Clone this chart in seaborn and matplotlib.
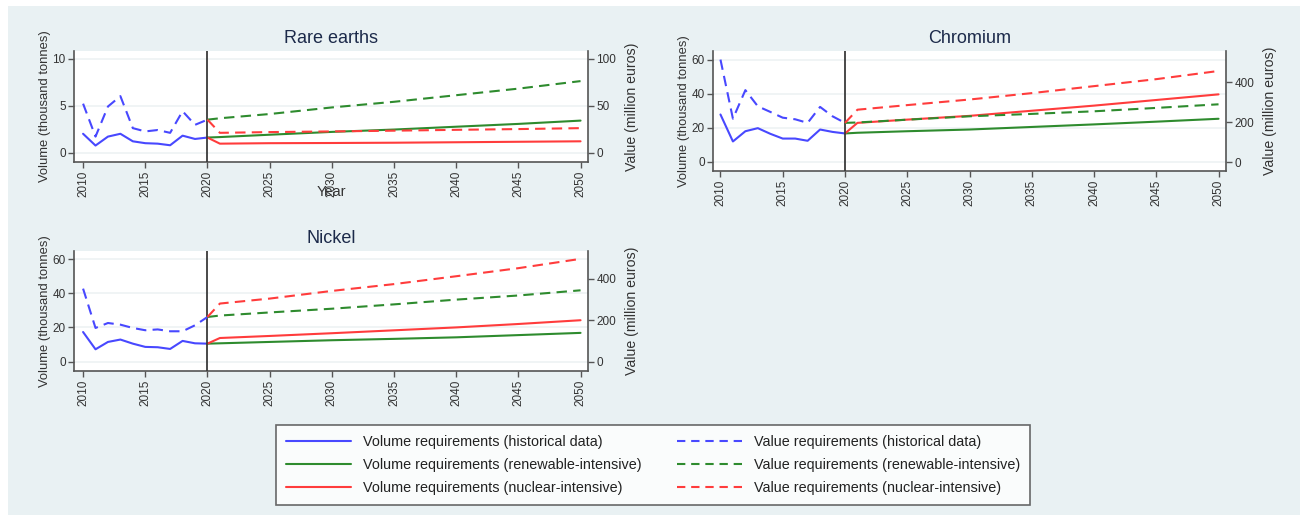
import numpy as np
import pandas as pd
import seaborn as sns
import matplotlib
matplotlib.use("Agg")
import matplotlib.pyplot as plt
from matplotlib.lines import Line2D
from matplotlib.patches import Rectangle

sns.set_theme(style="white")
plt.rcParams['font.family'] = ['Liberation Sans', 'DejaVu Sans']

# ---------------- data ----------------
hist_years = [2010, 2011, 2012, 2013, 2014, 2015, 2016, 2017, 2018, 2019, 2020]
proj_years = [2020, 2021, 2025, 2030, 2035, 2040, 2045, 2050]

# Rare earths
re_vol_hist = [2.0, 0.75, 1.7, 2.0, 1.2, 1.0, 0.95, 0.78, 1.8, 1.45, 1.6]
re_val_hist = [52, 17, 49, 60, 26, 22.5, 24, 21, 44, 29.5, 35]
re_vol_ren = [1.6, 1.65, 1.9, 2.2, 2.45, 2.75, 3.05, 3.4]
re_val_ren = [35, 36.5, 41, 48, 54, 61, 68, 76]
re_vol_nuc = [1.6, 0.95, 1.0, 1.02, 1.05, 1.1, 1.15, 1.2]
re_val_nuc = [35, 21, 21.8, 22.5, 23.3, 24.2, 25, 26]

# Chromium
cr_vol_hist = [27.8, 12.0, 18.0, 19.8, 16.5, 13.7, 13.7, 12.4, 19.0, 17.6, 16.7]
cr_val_hist = [513, 217, 360, 279, 251, 222, 214, 196, 276, 229, 196]
cr_vol_ren = [16.7, 17.1, 18.0, 19.0, 20.5, 22.0, 23.6, 25.3]
cr_val_ren = [196, 198, 212, 229, 241, 254, 271, 289]
cr_vol_nuc = [16.7, 22.9, 24.8, 27.0, 30.0, 33.0, 36.3, 39.6]
cr_val_nuc = [196, 262, 285, 313, 345, 380, 415, 456]

# Nickel
ni_vol_hist = [17.3, 7.2, 11.5, 12.9, 10.5, 8.6, 8.4, 7.4, 12.1, 10.7, 10.5]
ni_val_hist = [353, 163, 187, 179, 163, 152, 156, 147, 147, 176, 216]
ni_vol_ren = [10.5, 10.7, 11.5, 12.5, 13.3, 14.2, 15.5, 16.8]
ni_val_ren = [216, 223, 238, 256, 277, 300, 320, 345]
ni_vol_nuc = [10.5, 13.8, 15.0, 16.6, 18.3, 20.0, 22.0, 24.2]
ni_val_nuc = [216, 281, 305, 342, 375, 413, 452, 497]

titles = ["Rare earths", "Chromium", "Nickel"]
left_ticks = [[0, 5, 10], [0, 20, 40, 60], [0, 20, 40, 60]]
right_ticks = [[0, 50, 100], [0, 200, 400], [0, 200, 400]]
x_ticks = [2010, 2015, 2020, 2025, 2030, 2035, 2040, 2045, 2050]

legend_labels = [
    "Volume requirements (historical data)",
    "Volume requirements (renewable-intensive)",
    "Volume requirements (nuclear-intensive)",
    "Value requirements (historical data)",
    "Value requirements (renewable-intensive)",
    "Value requirements (nuclear-intensive)",
]

# ---------------- style ----------------
BLUE = "#4848ff"
GREEN = "#2e8b2e"
RED = "#ff3c3c"
BG = "#e9f1f3"
AXC = "#555555"
TXT = "#333333"
LW = 1.5
DASH = (5, 3)

W, H = 1305, 521
fig = plt.figure(figsize=(W / 100, H / 100), dpi=100)
fig.patch.set_facecolor("white")
fig.patches.append(Rectangle((8 / W, 6 / H), (1300 - 8) / W, (515 - 6) / H,
                             transform=fig.transFigure, facecolor=BG,
                             edgecolor="none", zorder=-10))


def px_axes(l, t, r, b):
    return fig.add_axes([l / W, (H - b) / H, (r - l) / W, (b - t) / H])


panels = [
    dict(box=(74, 51, 588, 162), ylim=(-1.0, 10.8), y2lim=(-10, 108),
         xlim=(2009.27, 2050.6),
         vh=re_vol_hist, ah=re_val_hist, vr=re_vol_ren, ar=re_val_ren,
         vn=re_vol_nuc, an=re_val_nuc),
    dict(box=(713, 51, 1226, 171), ylim=(-5.3, 65), y2lim=(-45, 556),
         xlim=(2009.4, 2050.6),
         vh=cr_vol_hist, ah=cr_val_hist, vr=cr_vol_ren, ar=cr_val_ren,
         vn=cr_vol_nuc, an=cr_val_nuc),
    dict(box=(74, 251, 588, 371), ylim=(-5.5, 64.7), y2lim=(-45, 535),
         xlim=(2009.27, 2050.6),
         vh=ni_vol_hist, ah=ni_val_hist, vr=ni_vol_ren, ar=ni_val_ren,
         vn=ni_vol_nuc, an=ni_val_nuc),
]

for i, p in enumerate(panels):
    ax = px_axes(*p["box"])
    ax.set_facecolor("white")
    ax2 = ax.twinx()

    sns.lineplot(x=hist_years, y=p["vh"], ax=ax, color=BLUE, lw=LW)
    sns.lineplot(x=proj_years, y=p["vr"], ax=ax, color=GREEN, lw=LW)
    sns.lineplot(x=proj_years, y=p["vn"], ax=ax, color=RED, lw=LW)
    sns.lineplot(x=hist_years, y=p["ah"], ax=ax2, color=BLUE, lw=LW)
    sns.lineplot(x=proj_years, y=p["ar"], ax=ax2, color=GREEN, lw=LW)
    sns.lineplot(x=proj_years, y=p["an"], ax=ax2, color=RED, lw=LW)
    for ln in ax2.get_lines():
        ln.set_dashes(DASH)

    ax.axvline(2020, color="#3a3a3a", lw=1.3, zorder=5)

    ax.set_xlim(*p["xlim"])
    ax.set_ylim(*p["ylim"])
    ax2.set_ylim(*p["y2lim"])
    ax.set_xticks(x_ticks)
    ax.set_xticklabels([str(t) for t in x_ticks], rotation=90)
    ax.set_yticks(left_ticks[i])
    ax2.set_yticks(right_ticks[i])

    ax.grid(axis="y", color="#edf2f3", lw=1.2)
    ax.set_axisbelow(True)

    for a in (ax, ax2):
        a.spines["top"].set_visible(False)
        a.tick_params(length=4, width=1, color=AXC, labelsize=8.5,
                      labelcolor=TXT, pad=2, direction="out")
    ax.spines["right"].set_visible(False)
    ax2.spines["left"].set_visible(False)
    ax2.spines["bottom"].set_visible(False)
    for s in ("left", "bottom"):
        ax.spines[s].set_color(AXC)
        ax.spines[s].set_linewidth(1.2)
    ax2.spines["right"].set_color(AXC)
    ax2.spines["right"].set_linewidth(1.2)
    ax.tick_params(axis="x", bottom=True)
    ax.tick_params(axis="y", left=True)
    ax2.tick_params(axis="y", right=True)

    ax.set_ylabel("Volume (thousand tonnes)", fontsize=9.4, color=TXT, labelpad=1)
    ax2.set_ylabel("Value (million euros)", fontsize=10.2, color=TXT, labelpad=6)
    ax.set_xlabel("")
    ax.set_title(titles[i], fontsize=13, color="#1c2a4a", pad=6)

# "Year" label for the first panel (overlaps tick labels as in the reference)
fig.text(331 / W, (H - 192) / H, "Year", ha="center", va="center",
         fontsize=10.5, color=TXT)

handles = [
    Line2D([], [], color=BLUE, lw=LW),
    Line2D([], [], color=GREEN, lw=LW),
    Line2D([], [], color=RED, lw=LW),
    Line2D([], [], color=BLUE, lw=LW, dashes=(4, 2.8)),
    Line2D([], [], color=GREEN, lw=LW, dashes=(4, 2.8)),
    Line2D([], [], color=RED, lw=LW, dashes=(4, 2.8)),
]
leg = fig.legend(handles, legend_labels, ncol=2, loc="center",
                 bbox_to_anchor=(653 / W, (H - 465) / H),
                 fontsize=10.4, frameon=True, fancybox=False,
                 handlelength=4.5, handletextpad=0.85, columnspacing=2.4,
                 labelspacing=0.6, borderpad=0.7, borderaxespad=0)
leg.get_frame().set_edgecolor("#444444")
leg.get_frame().set_linewidth(1.2)
leg.get_frame().set_facecolor("white")
for t in leg.get_texts():
    t.set_color("#222222")

fig.savefig("out.png", dpi=100)
